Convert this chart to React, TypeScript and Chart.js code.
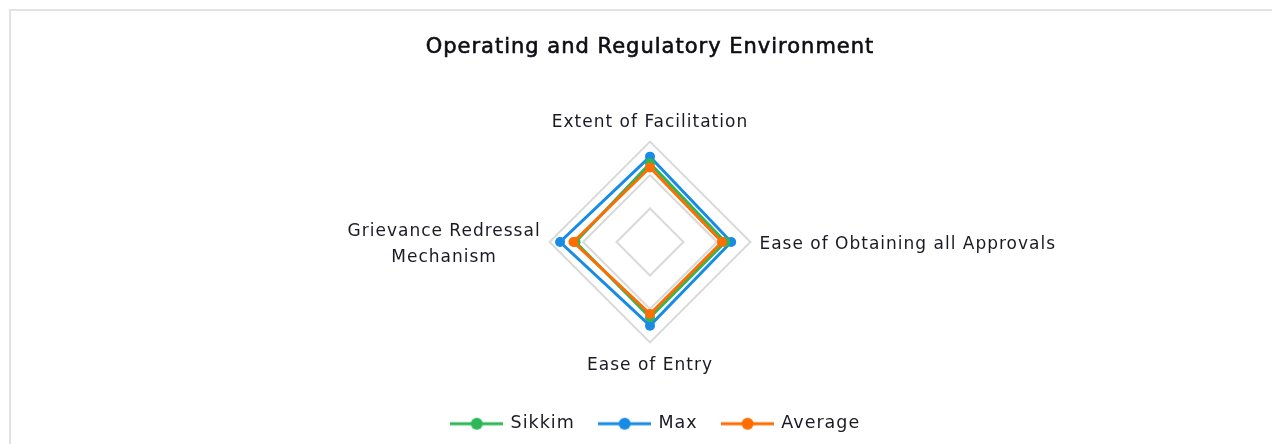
import React, { useEffect, useRef } from 'react';
import { Chart, registerables } from 'chart.js';

Chart.register(...registerables);

const categories: string[][] = [
  ['Extent of Facilitation'],
  ['Ease of Obtaining all Approvals'],
  ['Ease of Entry'],
  ['Grievance Redressal', 'Mechanism'],
];
const seriesNames = ['Sikkim', 'Max', 'Average'];
const sikkimValues = [0.94, 0.9, 0.9, 0.89];
const maxValues = [1.02, 0.97, 1.0, 1.075];
const averageValues = [0.89, 0.86, 0.86, 0.915];
const seriesColors = ['#2DB757', '#188CE5', '#FF6D00'];
const titleText = 'Operating and Regulatory Environment';
const scaleMax = 1.2;
const scaleStep = 0.4;

const FONT = "'DejaVu Sans', sans-serif";
const TEXT_COLOR = '#1a1a24';
const TITLE_COLOR = '#0d0d14';
const TITLE_SIZE = 21;
const LABEL_SIZE = 17;
const LABEL_LINE_GAP = 26;
const LABEL_Y_SHIFT = [0, 2.5, 3.5, 2.5];

function makeLegendIcon(color: string) {
  const c = document.createElement('canvas');
  c.width = 53;
  c.height = 14;
  const ctx = c.getContext('2d')!;
  ctx.strokeStyle = color;
  ctx.lineWidth = 3;
  ctx.beginPath();
  ctx.moveTo(0, 7);
  ctx.lineTo(53, 7);
  ctx.stroke();
  ctx.fillStyle = color;
  ctx.beginPath();
  ctx.arc(26.5, 7, 6, 0, Math.PI * 2);
  ctx.fill();
  return c;
}

const spacingPlugin = {
  id: 'letterSpacing',
  beforeUpdate(chart: any) {
    chart.ctx.letterSpacing = '1px';
  },
  afterLayout(chart: any) {
    if (chart.legend) {
      chart.legend.left += 6;
      chart.legend.right += 6;
    }
  },
  beforeDraw(chart: any) {
    chart.ctx.letterSpacing = '1px';
  },
};

const textPlugin = {
  id: 'customText',
  afterDraw(chart: any) {
    const ctx = chart.ctx;
    // title drawn with a slightly heavier weight
    const t = chart.titleBlock;
    if (t) {
      ctx.save();
      ctx.letterSpacing = '1px';
      ctx.font = `${TITLE_SIZE}px ${FONT}`;
      ctx.fillStyle = TITLE_COLOR;
      ctx.strokeStyle = TITLE_COLOR;
      ctx.lineWidth = 0.6;
      ctx.textAlign = 'center';
      ctx.textBaseline = 'middle';
      const cx = (t.left + t.right) / 2;
      const cy = t.top + t.options.padding.top + (TITLE_SIZE * 1.2) / 2;
      ctx.fillText(titleText, cx, cy);
      ctx.strokeText(titleText, cx, cy);
      ctx.restore();
    }
    const scale = chart.scales.r;
    if (!scale || !scale.getPointLabelPosition) return;
    ctx.save();
    ctx.letterSpacing = '1px';
    ctx.font = `${LABEL_SIZE}px ${FONT}`;
    ctx.fillStyle = TEXT_COLOR;
    ctx.textAlign = 'center';
    ctx.textBaseline = 'middle';
    categories.forEach((lines, i) => {
      const p = scale.getPointLabelPosition(i);
      const cx = (p.left + p.right) / 2;
      const cy = (p.top + p.bottom) / 2 + LABEL_Y_SHIFT[i];
      const n = lines.length;
      lines.forEach((line, j) => {
        ctx.fillText(line, cx, cy + (j - (n - 1) / 2) * LABEL_LINE_GAP);
      });
    });
    ctx.restore();
  },
};

export default function App() {
  const ref = useRef<HTMLCanvasElement>(null);

  useEffect(() => {
    if (!ref.current) return;
    const icons = seriesColors.map(makeLegendIcon);
    const values = [sikkimValues, maxValues, averageValues];
    const orders = [2, 3, 1];
    const chart = new Chart(ref.current, {
      type: 'radar',
      data: {
        labels: categories,
        datasets: seriesNames.map((name, i) => ({
          label: name,
          data: values[i],
          borderColor: seriesColors[i],
          backgroundColor: seriesColors[i],
          pointBackgroundColor: seriesColors[i],
          pointBorderColor: seriesColors[i],
          borderWidth: 3,
          pointRadius: 5,
          pointBorderWidth: 0,
          fill: false,
          order: orders[i],
        })),
      },
      options: {
        animation: false,
        responsive: false,
        layout: { padding: { left: 9, right: 0, top: 0, bottom: 1.5 } },
        scales: {
          r: {
            min: 0,
            max: scaleMax,
            ticks: { display: false, stepSize: scaleStep },
            angleLines: { display: false },
            grid: { color: '#d9d9d9', lineWidth: 2 },
            pointLabels: {
              display: true,
              padding: 9,
              color: 'rgba(0,0,0,0)',
              font: { family: FONT, size: LABEL_SIZE },
            },
          },
        },
        plugins: {
          title: {
            display: true,
            text: titleText,
            color: 'rgba(0,0,0,0)',
            font: { family: FONT, size: TITLE_SIZE, weight: 'normal' },
            padding: { top: 24, bottom: 52 },
          },
          legend: {
            position: 'bottom',
            title: { display: true, text: ' ', font: { size: 1 }, padding: { top: 16.6, bottom: 0 } },
            labels: {
              usePointStyle: true,
              pointStyleWidth: 50,
              padding: 25,
              color: TEXT_COLOR,
              font: { family: FONT, size: 17.5 },
              generateLabels: (ch: any) => {
                const items = Chart.defaults.plugins.legend.labels.generateLabels(ch);
                items.forEach((it: any) => {
                  it.pointStyle = icons[it.datasetIndex];
                });
                return items;
              },
              sort: (a: any, b: any) => a.datasetIndex - b.datasetIndex,
            },
          },
          tooltip: { enabled: false },
        },
      },
      plugins: [spacingPlugin, textPlugin],
    });
    return () => chart.destroy();
  }, []);

  return (
    <div
      style={{
        marginLeft: 1,
        marginTop: 1,
        borderTop: '2px solid #e1e1e6',
        borderLeft: '2px solid #e1e1e6',
        width: 1269,
        height: 433,
        background: '#fff',
      }}
    >
      <canvas ref={ref} width={1269} height={433} style={{ display: 'block' }} />
    </div>
  );
}
